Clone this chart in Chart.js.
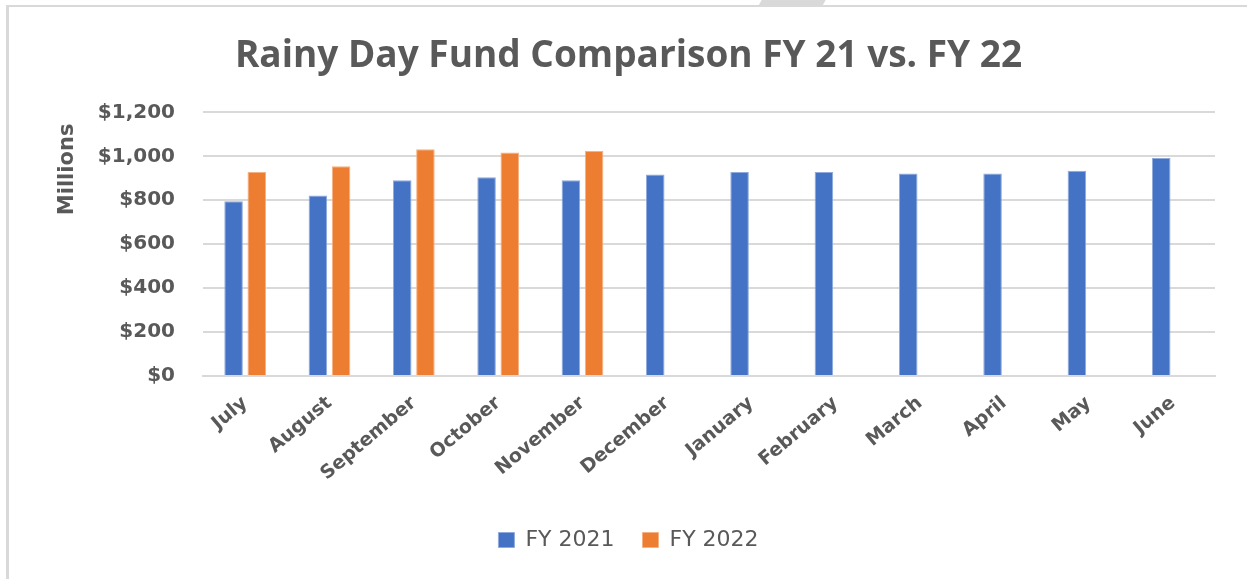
<!DOCTYPE html>
<html>
<head>
<meta charset="utf-8">
<script src="https://cdn.jsdelivr.net/npm/chart.js@4"></script>
<style>
    html, body { margin: 0; padding: 0; background: #fff; }
    body { width: 1247px; height: 579px; position: relative; overflow: hidden; }
    .moldura {
        position: absolute; left: 6px; top: 5px; right: -6px; bottom: -6px;
        border-top: 2px solid #d9d9d9;
        border-left: 3px solid #d9d9d9;
    }
    .aba {
        position: absolute; left: 760px; top: 0; width: 64px; height: 6px;
        background: #d9d9d9; transform: skewX(-30deg);
    }
    #grafico { position: absolute; left: 0; top: 0; }
</style>
</head>
<body>
<div class="moldura"></div>
<div class="aba"></div>
<canvas id="grafico" width="1247" height="579"></canvas>
<script>
// dados (milhões de dólares)
const meses   = ["July", "August", "September", "October", "November", "December",
                 "January", "February", "March", "April", "May", "June"];
const fy2021  = [796, 822, 891, 905, 891, 917, 929, 929, 922, 922, 934, 992];
const fy2022  = [929, 955, 1032, 1018, 1024, null, null, null, null, null, null, null];
const ticksY  = [0, 200, 400, 600, 800, 1000, 1200];

const COR_AZUL    = "#4472C4";
const COR_LARANJA = "#ED7D31";
const COR_TEXTO   = "#595959";
const COR_GRID    = "#d9d9d9";
const FONTE       = "'DejaVu Sans', sans-serif";

// rótulo "Millions" fica mais para cima, como no Excel
const tituloEixo = {
    id: "tituloEixo",
    afterDraw(chart) {
        const { ctx, chartArea } = chart;
        ctx.save();
        ctx.translate(68, chartArea.top + 57);
        ctx.rotate(-Math.PI / 2);
        ctx.fillStyle = COR_TEXTO;
        ctx.font = "bold 21px " + FONTE;
        ctx.textAlign = "center";
        ctx.textBaseline = "middle";
        ctx.fillText("Millions", 0, 0);
        ctx.restore();
    }
};

new Chart(document.getElementById("grafico"), {
    type: "bar",
    data: {
        labels: meses,
        datasets: [
            {
                label: "FY 2021",
                data: fy2021,
                backgroundColor: COR_AZUL,
                borderColor: "#8faadc",
                borderWidth: 1,
                categoryPercentage: 0.55,
                barPercentage: 0.8,
            },
            {
                label: "FY 2022",
                data: fy2022,
                backgroundColor: COR_LARANJA,
                borderColor: "#f4b183",
                borderWidth: 1,
                categoryPercentage: 0.55,
                barPercentage: 0.8,
            },
        ],
    },
    options: {
        responsive: false,
        animation: false,
        // padding esquerdo desloca o título/legenda para o centro do Excel
        layout: { padding: { left: 42, right: 32, top: 0, bottom: 18 } },
        plugins: {
            title: {
                display: true,
                text: "Rainy Day Fund Comparison FY 21 vs. FY 22",
                color: COR_TEXTO,
                font: { family: "'Open Sans', sans-serif", size: 37, weight: "bold" },
                padding: { top: 34, bottom: 34 },
            },
            legend: {
                position: "bottom",
                labels: {
                    color: COR_TEXTO,
                    font: { family: FONTE, size: 22 },
                    boxWidth: 16,
                    boxHeight: 15,
                    padding: 28,
                },
            },
            tooltip: { enabled: false },
        },
        scales: {
            x: {
                grid: { display: false, drawTicks: false },
                border: { display: true, color: COR_GRID, width: 2 },
                ticks: {
                    color: COR_TEXTO,
                    font: { family: FONTE, size: 19, weight: "bold" },
                    minRotation: 40,
                    maxRotation: 40,
                    padding: 16,
                },
                afterFit: s => { s.height = 125; },
            },
            y: {
                min: 0,
                max: 1200,
                afterBuildTicks: s => { s.ticks = ticksY.map(v => ({ value: v })); },
                grid: { color: COR_GRID, lineWidth: 2, drawTicks: false },
                border: { display: false },
                ticks: {
                    color: COR_TEXTO,
                    font: { family: FONTE, size: 20, weight: "bold" },
                    padding: 28,
                    callback: v => "$" + v.toLocaleString("en-US"),
                },
                afterFit: s => { s.width = 161; },
            },
        },
    },
    plugins: [tituloEixo],
});
</script>
</body>
</html>
